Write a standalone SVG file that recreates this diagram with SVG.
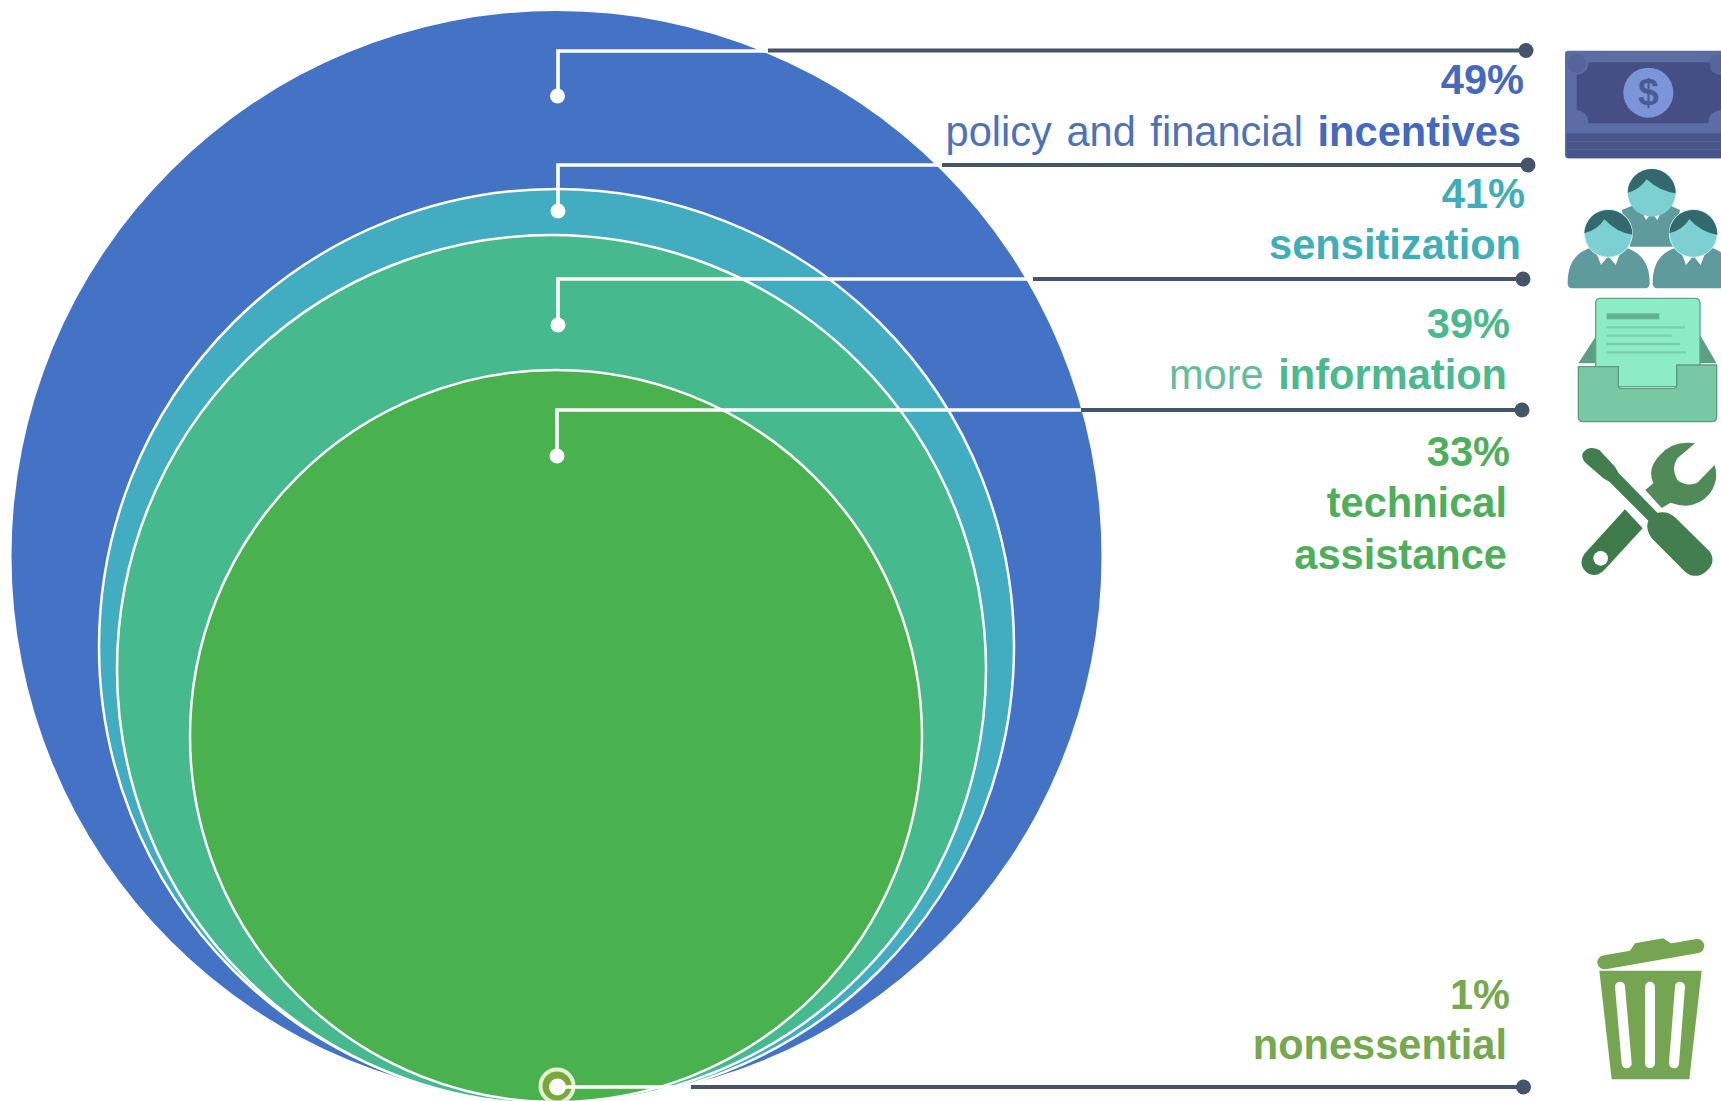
<svg xmlns="http://www.w3.org/2000/svg" width="1721" height="1101" viewBox="0 0 1721 1101">
<style>
text{font-family:"Liberation Sans",Arial,sans-serif;font-size:41.6px;text-anchor:end}
.b{font-weight:700}
.ring{stroke:#fff;stroke-width:2.5}
.lw{fill:none;stroke:#fff;stroke-width:3.6}
.ld{fill:none;stroke:#44546A;stroke-width:4}
.dw{fill:#fff}
.dd{fill:#44546A}
</style>
<defs>
<linearGradient id="tool" x1="0" y1="0" x2="0" y2="1"><stop offset="0" stop-color="#5c9a64"/><stop offset="1" stop-color="#2f6639"/></linearGradient>
<g id="person">
<path d="M-108,165Q-122,165-122,150C-122,88-98,58-50,42H50C98,58 124,88 124,150Q124,165 110,165Z" fill="#5f9a9c"/>
<path d="M-40,48L-22,95L0,68L22,95L40,48Z" fill="#fff"/>
<path d="M-12,62L0,75L12,62Z" fill="#5f9a9c"/>
<circle r="72" fill="#7dd0d2" stroke="#d6f3f3" stroke-width="3"/>
<path d="M-72,0A72,72 0 0 1 72,4Q25,-2-12,-42Q-32,-10-72,0Z" fill="#33696c"/>
</g>
</defs>
<g id="circle-incentives"><circle cx="556.5" cy="556" r="545" fill="#4472C4"/></g>
<g id="circle-sensitization"><circle cx="556.5" cy="646.5" r="457.5" fill="#42ACC1" class="ring"/></g>
<g id="circle-information"><circle cx="551.5" cy="669.5" r="434.5" fill="#46B98E" class="ring"/></g>
<g id="circle-technical"><circle cx="556" cy="736" r="366" fill="#49B24F" class="ring"/></g>
<g id="connectors">
<path class="lw" d="M558,96V51H768"/>
<path class="ld" d="M768,50.5H1526"/>
<path class="lw" d="M558,211V165H942"/>
<path class="ld" d="M942,165H1528"/>
<path class="lw" d="M558,325V279H1033"/>
<path class="ld" d="M1033,279H1522"/>
<path class="lw" d="M557,456V410H1081"/>
<path class="ld" d="M1081,410H1521"/>
<circle class="dw" cx="557.5" cy="96" r="7.5"/>
<circle class="dw" cx="558" cy="211" r="7.5"/>
<circle class="dw" cx="558" cy="325" r="7.5"/>
<circle class="dw" cx="557" cy="456" r="7.5"/>
<circle cx="557" cy="1086" r="16.5" fill="#7BA63C" stroke="#E4F2D4" stroke-width="4"/>
<path class="lw" d="M557,1087H691"/>
<path class="ld" d="M691,1087H1523"/>
<circle class="dw" cx="557.5" cy="1087" r="8.5"/>
<circle class="dd" cx="1526" cy="50.5" r="7.5"/>
<circle class="dd" cx="1528" cy="165" r="7.5"/>
<circle class="dd" cx="1523" cy="279" r="7.5"/>
<circle class="dd" cx="1522" cy="410" r="7.5"/>
<circle class="dd" cx="1523.5" cy="1087" r="7.5"/>
</g>
<g id="label-incentives" fill="#4569BC">
<text class="b" x="1524" y="94">49%</text>
<text x="1521" y="146" word-spacing="3"><tspan fill="#4F71B5">policy and financial</tspan> <tspan class="b">incentives</tspan></text>
</g>
<g id="label-sensitization" fill="#40AEB9">
<text class="b" x="1525" y="208">41%</text>
<text class="b" x="1521" y="259">sensitization</text>
</g>
<g id="label-information" fill="#4CB88E">
<text class="b" x="1510" y="338">39%</text>
<text x="1507" y="389" word-spacing="3"><tspan fill="#62BE9A">more</tspan> <tspan class="b">information</tspan></text>
</g>
<g id="label-technical" fill="#4FAE5C">
<text class="b" x="1510" y="466">33%</text>
<text class="b" x="1507" y="517">technical</text>
<text class="b" x="1507" y="569">assistance</text>
</g>
<g id="label-nonessential" fill="#76A84F">
<text class="b" x="1510" y="1009">1%</text>
<text class="b" x="1507" y="1059">nonessential</text>
</g>
<g id="icon-money" transform="translate(1540,30) scale(.33333)">
<rect x="75" y="62" width="520" height="323" rx="10" fill="#5C6CA4"/>
<circle cx="110" cy="100" r="28" fill="#55649A"/>
<circle cx="535" cy="100" r="28" fill="#55649A"/>
<path d="M80,310H600V375Q600,385 590,385H90Q80,385 80,375Z" fill="#48558A"/>
<path d="M80,335H600M80,358H600" stroke="#56639A" stroke-width="3"/>
<path d="M145,97H510Q505,130 545,135V240Q505,245 505,280H145Q145,245 110,240V135Q145,130 145,97Z" fill="#454F86"/>
<circle cx="325" cy="188" r="75" fill="#7B95D8"/>
<text x="325" y="226" style="font-size:112px;text-anchor:middle" class="b" fill="#4A5A96">$</text>
</g>
<g id="icon-people" transform="translate(1540,30) scale(.33333)">
<path d="M245,540L290,522H380L420,540L400,650H270Z" fill="#5F9A9C"/>
<path d="M295,522L318,570L335,548L352,570L375,522Z" fill="#fff"/>
<circle cx="335" cy="488" r="72" fill="#7DD0D2"/>
<path d="M263,488A72,72 0 0 1 407,490Q360,484 320,448Q300,478 263,488Z" fill="#33696C"/>
<use href="#person" x="205" y="610"/>
<use href="#person" x="460" y="610"/>
</g>
<g id="icon-inbox" transform="translate(1540,280) scale(.33333)">
<path d="M115,250L170,165H480L530,250Z" fill="#5E9E85"/>
<path d="M180,55H465Q480,55 480,70V260H410V320H235V260H167V70Q167,55 180,55Z" fill="#8EECC5" stroke="#5BA88A" stroke-width="4"/>
<rect x="200" y="100" width="158" height="18" fill="#62B292"/>
<path d="M200,142H435M200,167H395M200,192H420M200,217H438" stroke="#78D0AE" stroke-width="7"/>
<path d="M115,260H235V315Q235,325 245,325H400Q410,325 410,315V255H530V410Q530,425 515,425H130Q115,425 115,410Z" fill="#78C8A4" stroke="#5B9C80" stroke-width="4"/>
</g>
<g id="icon-tools" transform="translate(1540,280) scale(.33333)">
<path d="M465,490Q400,480 360,525Q320,565 340,610L316,630L365,684L392,668Q465,695 510,640Q538,600 524,555L472,608Q440,622 412,600Q392,565 412,535Z" fill="#4F8A58"/>
<path d="M255,688L308,745L195,868Q170,895 143,880Q112,855 133,822Z" fill="#3F7A4A"/>
<circle cx="182" cy="835" r="22" fill="#fff"/>
<path d="M128,520Q145,495 178,510L225,560L235,578L352,698Q385,692 405,712L510,815Q530,848 498,875Q465,900 435,875L335,775Q315,745 325,722L208,605L190,595L138,550Q123,535 128,520Z" fill="#437F4E"/>
</g>
<g id="icon-trash" transform="translate(1560,920) scale(.33333)" fill="#76A552">
<path d="M133,127L412,78" stroke="#76A552" stroke-width="42" stroke-linecap="round"/>
<path d="M205,100L225,70L310,55L340,75Z"/>
<path d="M118,152H425L388,478H155Z"/>
<path d="M180,200L200,430M270,200V430M360,200L342,430" stroke="#fff" stroke-width="30" stroke-linecap="round"/>
</g>
</svg>
